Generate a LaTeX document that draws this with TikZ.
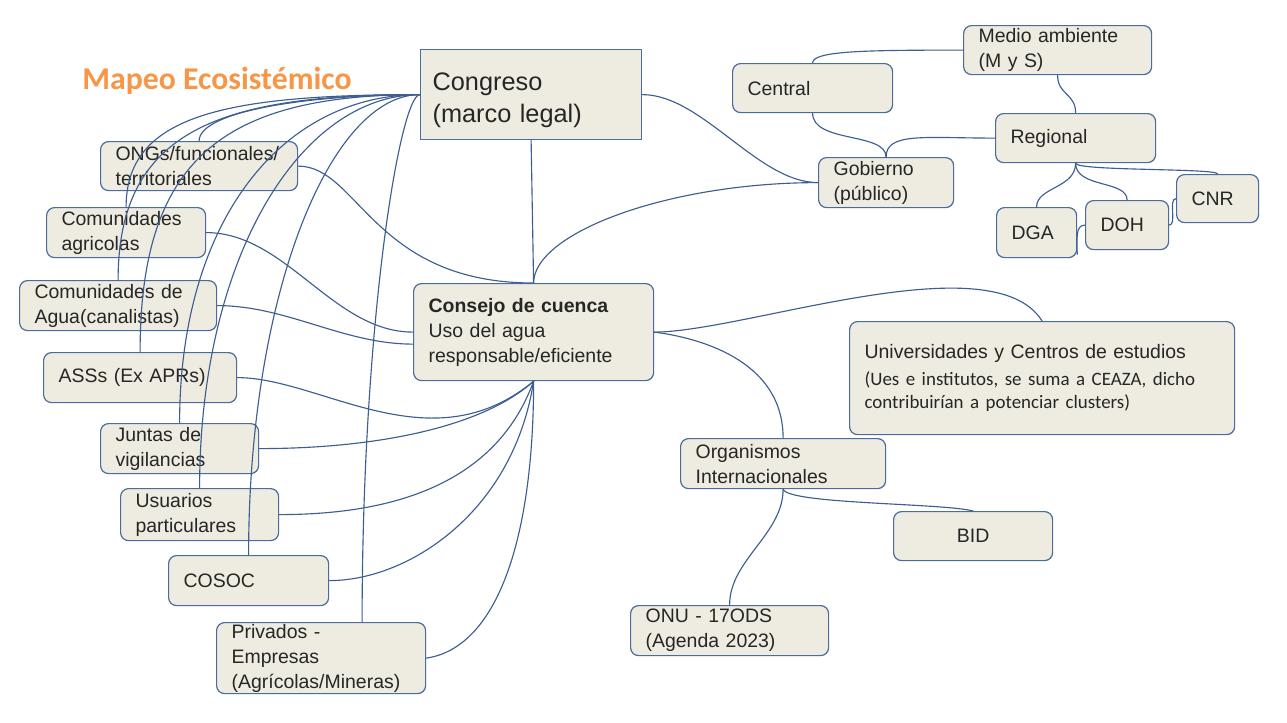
\documentclass[tikz,border=0pt]{standalone}
\usepackage{fontspec}
\setmainfont{Liberation Sans}
\newfontfamily\calfont{Carlito}
\usepackage[svgnames]{xcolor}
\usetikzlibrary{calc}

\definecolor{boxfill}{HTML}{EEECE1}
\definecolor{boxline}{HTML}{4B6C9E}
\definecolor{linkblue}{HTML}{3D5E92}
\definecolor{mapeo}{HTML}{F79646}

\begin{document}
\begin{tikzpicture}[line cap=round,line join=round,x=0.75pt,y=-0.75pt,
  box/.style={draw=boxline, fill=boxfill, line width=0.9pt, rounded corners=6pt,
    anchor=north west, inner xsep=11.25pt, inner ysep=1pt, align=left,
    text=black!85, font=\fontsize{14.6}{18.8}\selectfont},
  sz/.code 2 args={\pgfmathsetlengthmacro\boxw{(#1-30)*0.75pt}%
    \pgfmathsetlengthmacro\boxh{#2*0.75pt}%
    \tikzset{text width/.expanded=\boxw, minimum height/.expanded=\boxh}},
  link/.style={draw=linkblue, line width=0.85pt}]

% canvas (pixel grid of the slide, y pointing down)
\fill[white] (0,0) rectangle (1287,722);
\useasboundingbox (0,0) rectangle (1287,722);

% title
\node[font=\calfont\bfseries\fontsize{23.8}{28}\selectfont, text=mapeo] (mapeo) at (217,81) {Mapeo Ecosistémico};

% congreso (square corners, bigger text)
\node[box, rounded corners=0pt, inner xsep=9pt, text width=147.75pt, minimum height=67.5pt,
  font=\fontsize{19}{24}\selectfont] (cong) at (420,49) {\rule{0pt}{21.5pt}Congreso\\(marco legal)};

% left column of actors
\node[box, sz={197}{49}] (ong) at (100,141) {ONGs/funcionales/\\territoriales};
\node[box, sz={159}{50}] (agr) at (46,207) {Comunidades\\agricolas};
\node[box, sz={197}{50}] (agua) at (19,280) {Comunidades de\\Agua(canalistas)};
\node[box, sz={193}{50}] (ass) at (43,352) {ASSs (Ex APRs)};
\node[box, sz={158}{50}] (jun) at (100,423) {Juntas de\\vigilancias};
\node[box, sz={158}{52}] (usu) at (120,488) {Usuarios\\particulares};
\node[box, sz={160}{50}] (cos) at (168,555) {COSOC};
\node[box, sz={209}{71}] (priv) at (216,622) {Privados -\\Empresas\\(Agrícolas/Mineras)};

% consejo de cuenca
\node[box, sz={240}{97}] (cons) at (413,283) {\textbf{Consejo de cuenca}\\Uso del agua\\responsable/eficiente};

% gobierno branch
\node[box, sz={135}{50}] (gov) at (818,157) {Gobierno\\(público)};
\node[box, sz={160}{49}] (cen) at (732,63) {Central};
\node[box, sz={188}{49}] (med) at (963,25) {Medio ambiente\\(M y S)};
\node[box, sz={160}{49}] (reg) at (995,113) {Regional};
\node[box, sz={80}{50}] (dga) at (996,207) {DGA};
\node[box, sz={83}{49}] (doh) at (1085,200) {DOH};
\node[box, sz={82}{48}] (cnr) at (1176,174) {CNR};

% universidades / organismos
\node[box, sz={385}{113}] (uni) at (849,321) {Universidades y Centros de estudios\\[3pt]
  {\calfont\fontsize{14.2}{17.5}\selectfont(Ues e institutos, se suma a CEAZA, dicho\\contribuirían a potenciar clusters)\par}};
\node[box, sz={205}{50}] (org) at (680,438) {Organismos\\Internacionales};
\node[box, sz={159}{49}, align=center] (bid) at (893,511) {BID};
\node[box, sz={198}{50}] (onu) at (630,605) {ONU - 17ODS\\(Agenda 2023)};

% fan from congreso to the tops of the left column
\coordinate (privtop) at ([xshift=30.75pt]priv.north);
\foreach \n/\h/\v in {ong/110/30, agr/200/90, agua/200/150, ass/200/190, jun/140/200, usu/120/230, cos/90/260}
  \draw[link] (cong.west) .. controls +(-\h,0) and +(0,-\v) .. (\n.north);
\draw[link] (cong.west) .. controls +(-20,0) and +(0,-300) .. (privtop);

% left column into consejo
\draw[link] (ong.east) .. controls +(60,0) and +(-160,0) .. (cons.north);
\draw[link] (agr.east) .. controls +(80,0) and +(-80,0) .. (cons.west);
\draw[link] (agua.east) .. controls +(70,0) and +(-70,0) .. ([yshift=-9pt]cons.west);
\foreach \n/\a/\b/\c/\d in {ass/84/0/-103/85, jun/120/0/-50/45, usu/100/0/-40/110, cos/80/0/-20/130, priv/70/-10/0/160}
  \draw[link] (\n.east) .. controls +(\a,\b) and +(\c,\d) .. (cons.south);

% congreso, consejo and gobierno
\draw[link] (cong.south) -- (cons.north);
\draw[link] (cons.north) .. controls +(0,-50) and +(-150,0) .. (gov.west);
\draw[link] (cong.east) .. controls +(60,0) and +(-60,0) .. (gov.west);

% gobierno branch
\draw[link] (cen.south) .. controls +(0,30) and +(0,-25) .. (gov.north);
\draw[link] (reg.west) .. controls +(-70,0) and +(0,-25) .. (gov.north);
\draw[link] (cen.north) .. controls +(0,-12) and +(-100,0) .. (med.west);
\draw[link] (med.south) .. controls +(0,20) and +(0,-20) .. (reg.north);
\foreach \n in {dga,doh}
  \draw[link] (reg.south) .. controls +(0,25) and +(0,-20) .. (\n.north);
\draw[link] (reg.south) .. controls +(0,8) and +(0,-6) .. (cnr.north);
\draw[link] (doh.west) .. controls +(-10,0) and +(0,-15) .. ([yshift=3pt]dga.south east);
\draw[link] (doh.east) .. controls +(8,0) and +(-8,0) .. (cnr.west);

% consejo to the right side
\draw[link] (cons.east) .. controls +(90,0) and +(-50,-80) .. (uni.north);
\draw[link] (cons.east) .. controls +(40,5) and +(0,-80) .. (org.north);
\draw[link] (org.south) .. controls +(5,15) and +(-30,-8) .. (bid.north);
\draw[link] (org.south) .. controls +(0,45) and +(0,-45) .. (onu.north);

\end{tikzpicture}
\end{document}
